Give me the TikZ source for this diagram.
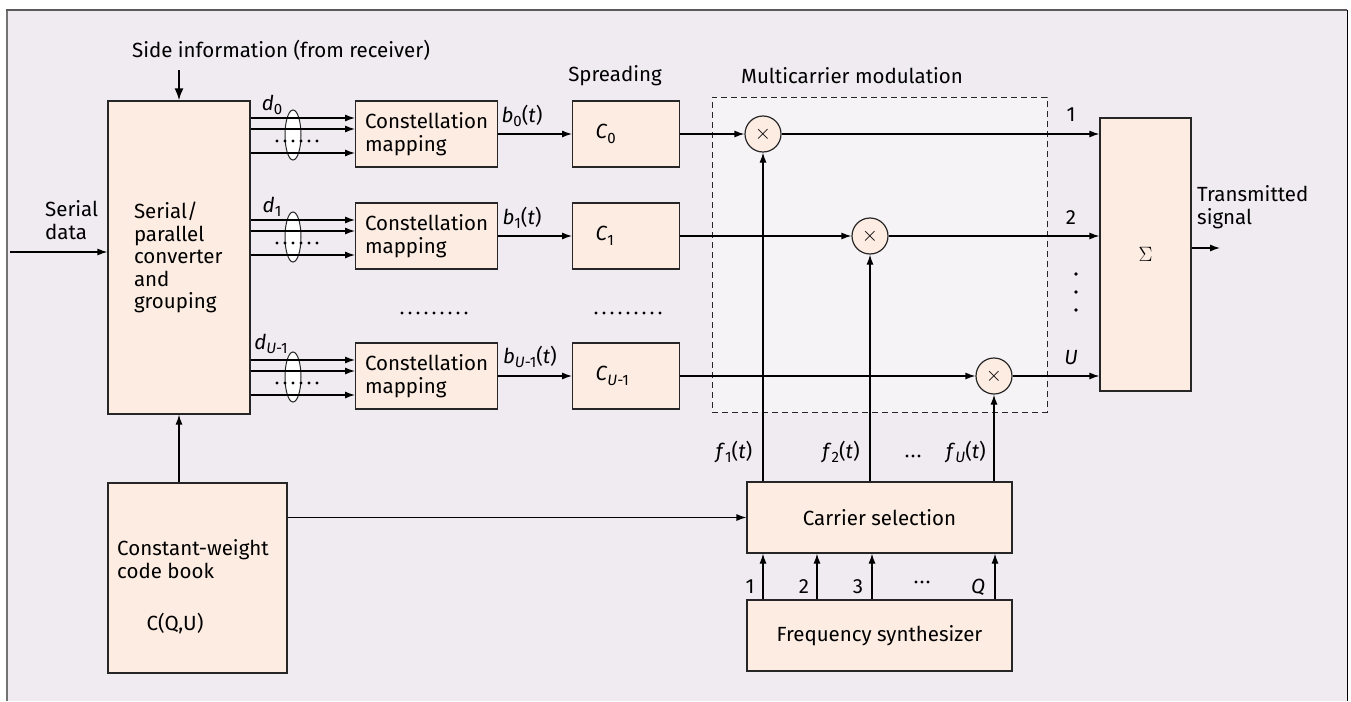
\documentclass[tikz,border=0pt]{standalone}
\usepackage{fontspec}
\setmainfont{Fira Sans}
\usetikzlibrary{arrows.meta,shapes.geometric,positioning}
\definecolor{bgcol}{RGB}{239,235,241}
\definecolor{boxfill}{RGB}{253,236,226}
\definecolor{mcfill}{RGB}{246,243,247}
\newcommand{\lowidx}[1]{\raisebox{-0.22em}{\fontsize{15}{15}\selectfont #1}}
\begin{document}
\begin{tikzpicture}[x=1pt,y=-1pt,
					every node/.style={font=\fontsize{20.5}{22.5}\selectfont},
					block/.style={rectangle,
					draw=black!85,
					line width=1.2pt,
					fill=boxfill,
					inner sep=0pt},
					mapbox/.style={block,
					anchor=west,
					minimum width=142pt,
					minimum height=66pt,
					inner xsep=9pt,
					align=left},
					spreadbox/.style={block,
					anchor=west,
					minimum height=66pt,
					inner xsep=23pt,
					text width=61pt,
					align=left},
					mixer/.style={circle,
					draw=black!85,
					line width=1.2pt,
					fill=boxfill,
					minimum size=36pt,
					inner sep=0pt},
					group/.style={ellipse,
					draw=black!85,
					line width=1pt,
					fill=white,
					minimum width=16pt,
					minimum height=50pt,
					inner sep=0pt},
					lbl/.style={inner sep=0pt},
					arr/.style={-{Latex[length=10pt,width=7pt]}, line width=1.2pt}
					]

\useasboundingbox (0,0) rectangle (1351,701);

% frame
\fill[bgcol] (7,10) rectangle (1347,701);
\draw[line width=2.5pt, black!55] (7,701) -- (7,10);
\draw[line width=2pt, black!65] (6,10) -- (1347,10);
\draw[line width=1pt, black] (1347,10) -- (1347,701);

% multicarrier region
\node[draw=black!85, dashed, dash pattern=on 6pt off 4pt, line width=1pt, fill=mcfill,
      minimum width=335pt, minimum height=315pt] (mcm) at (879.5,254.5) {};

% headings
\node[lbl] (sideinfo) at (281,50) {Side information (from receiver)};
\node[lbl] (spreading) at (615,76) {Spreading};
\node[lbl] (mcmtitle) at (852,76) {Multicarrier modulation};

% serial/parallel converter
\node[block, minimum height=313pt, inner xsep=26pt, text width=90pt, align=left] (sp) at (179,257.5)
      {Serial/\\parallel\\converter\\and\\grouping};
\node[lbl, anchor=west, align=left] (serial) at (45,220) {Serial\\data};

% constellation mapping
\node[mapbox] (map0) at (355,134) {Constellation\\mapping};
\node[mapbox] (map1) at (355,236) {Constellation\\mapping};
\node[mapbox] (map2) at (355,376) {Constellation\\mapping};

% spreading
\node[spreadbox] (spr0) at (572,134) {\textit{C}\lowidx{0}};
\node[spreadbox] (spr1) at (572,236) {\textit{C}\lowidx{1}};
\node[spreadbox] (spr2) at (572,376) {\textit{C}\lowidx{\textit{U}-1}};

% mixers
\node[mixer] (mix0) at (763,134) {$\times$};
\node[mixer] (mix1) at (870,236) {$\times$};
\node[mixer] (mix2) at (994,376) {$\times$};

% adder
\node[block, minimum width=91pt, minimum height=273pt] (sum) at (1145.5,254.5) {\fontsize{20}{20}\selectfont$\Sigma$};
\node[lbl, anchor=west, align=left] (txsig) at (1197,207) {Transmitted\\signal};

% bottom blocks
\node[block, minimum width=179pt, minimum height=190pt] (codebook) at (197.5,578) {};
\node[lbl, anchor=west, align=left] (cbtext) at (117,559) {Constant-weight\\code book};
\node[lbl] (cbname) at (175,624) {C(Q,U)};
\node[block, minimum width=265pt, minimum height=71pt] (carsel) at (879.5,517.5) {Carrier selection};
\node[block, minimum width=265pt, minimum height=71pt] (freq) at (879.5,635.5) {Frequency synthesizer};

% groups of bits
\node[group] (grp0) at (293,135) {};
\node[group] (grp1) at (293,237) {};
\node[group] (grp2) at (293,377) {};

\node[lbl] (dlab0) at (272,105) {\textit{d}\lowidx{0}};
\node[lbl] (dlab1) at (272,207) {\textit{d}\lowidx{1}};
\node[lbl] (dlab2) at (271,344) {\textit{d}\lowidx{\textit{U}-1}};

\node[lbl] (blab0) at (522,116) {\textit{b}\lowidx{0}(\textit{t})};
\node[lbl] (blab1) at (522,218) {\textit{b}\lowidx{1}(\textit{t})};
\node[lbl] (blab2) at (530,357) {\textit{b}\lowidx{\textit{U}-1}(\textit{t})};

\node[lbl] (ilab0) at (1071,115) {1};
\node[lbl] (ilab1) at (1071,218) {2};
\node[lbl] (ilab2) at (1071,358) {\textit{U}};

\node[lbl] (flab0) at (734,452) {\textit{f}\lowidx{1}(\textit{t})};
\node[lbl] (flab1) at (841,452) {\textit{f}\lowidx{2}(\textit{t})};
\node[lbl] (flab2) at (966,452) {\textit{f}\lowidx{\textit{U}}(\textit{t})};

\node[lbl] (qlab0) at (750,587) {1};
\node[lbl] (qlab1) at (804,587) {2};
\node[lbl] (qlab2) at (858,587) {3};
\node[lbl] (qlab3) at (978,587) {\textit{Q}};

% dots
\foreach \i in {0,...,5} {
  \fill (277+8*\i,141) circle (1.7pt);
  \fill (277+8*\i,243) circle (1.7pt);
  \fill (277+8*\i,383) circle (1.7pt);
}
\foreach \i in {0,...,8} {
  \fill (402+8*\i,313) circle (1.7pt);
  \fill (596+8*\i,313) circle (1.7pt);
}
\foreach \i in {0,...,2} {
  \fill (1076,274+18*\i) circle (1.8pt);
  \fill (907+6*\i,456) circle (1.7pt);
  \fill (916+6*\i,582) circle (1.7pt);
}

% Arrows
\coordinate (sidein) at (179,70);
\draw[-{Latex[length=12pt,width=9pt]}, line width=2pt] (sidein) -- (sp.north);
\coordinate (serin) at (10,252);
\draw[arr] (serin) -- (serin -| sp.west);

\draw[arr] ([yshift=16pt]map0.west -| sp.east) -- ([yshift=16pt]map0.west);
\draw[arr] ([yshift=5pt]map0.west -| sp.east) -- ([yshift=5pt]map0.west);
\draw[arr] ([yshift=-19pt]map0.west -| sp.east) -- ([yshift=-19pt]map0.west);
\draw[arr] ([yshift=16pt]map1.west -| sp.east) -- ([yshift=16pt]map1.west);
\draw[arr] ([yshift=5pt]map1.west -| sp.east) -- ([yshift=5pt]map1.west);
\draw[arr] ([yshift=-19pt]map1.west -| sp.east) -- ([yshift=-19pt]map1.west);
\draw[arr] ([yshift=16pt]map2.west -| sp.east) -- ([yshift=16pt]map2.west);
\draw[arr] ([yshift=5pt]map2.west -| sp.east) -- ([yshift=5pt]map2.west);
\draw[arr] ([yshift=-19pt]map2.west -| sp.east) -- ([yshift=-19pt]map2.west);

\draw[arr] (map0.east) -- (spr0.west);
\draw[arr] (map1.east) -- (spr1.west);
\draw[arr] (map2.east) -- (spr2.west);

\draw[arr] (spr0.east) -- (mix0.west);
\draw[arr] (spr1.east) -- (mix1.west);
\draw[arr] (spr2.east) -- (mix2.west);

\draw[arr] (mix0.east) -- (mix0.east -| sum.west);
\draw[arr] (mix1.east) -- (mix1.east -| sum.west);
\draw[arr] (mix2.east) -- (mix2.east -| sum.west);

\coordinate (txout) at (1220,248);
\draw[arr] (sum.east |- txout) -- (txout);

\draw[arr] (carsel.north -| mix0) -- (mix0.south);
\draw[arr] (carsel.north -| mix1) -- (mix1.south);
\draw[arr] (carsel.north -| mix2) -- (mix2.south);

\draw[arr] (codebook.north -| sp.south) -- (sp.south);
\draw[arr] (codebook.east |- carsel.west) -- (carsel.west);

\draw[arr] ([xshift=-116.5pt]freq.north) -- ([xshift=-116.5pt]carsel.south);
\draw[arr] ([xshift=-62.5pt]freq.north) -- ([xshift=-62.5pt]carsel.south);
\draw[arr] ([xshift=-7.5pt]freq.north) -- ([xshift=-7.5pt]carsel.south);
\draw[arr] ([xshift=115.5pt]freq.north) -- ([xshift=115.5pt]carsel.south);

\end{tikzpicture}
\end{document}
